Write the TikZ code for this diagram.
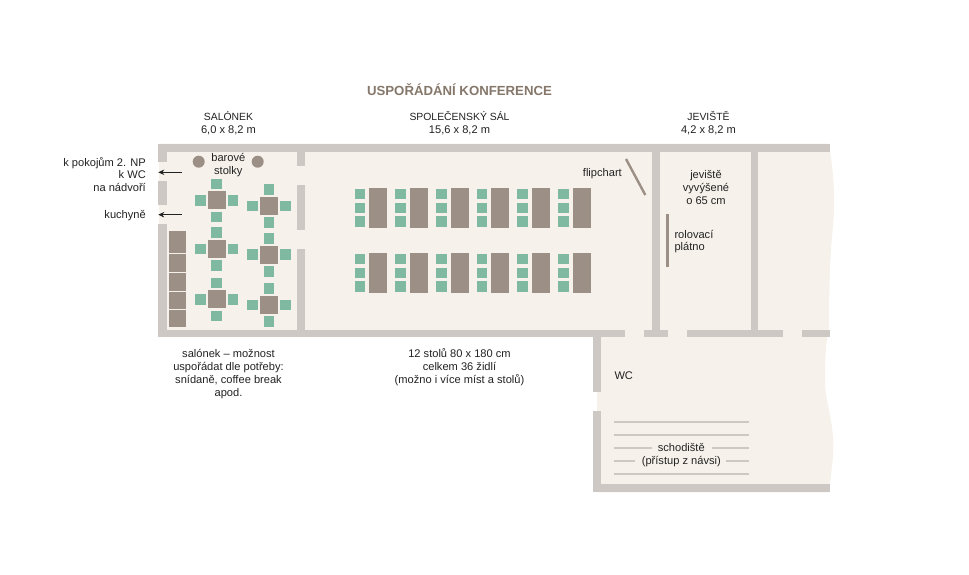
\documentclass[tikz,border=0pt]{standalone}
\usepackage{fontspec}
\setmainfont{Liberation Sans}
\usetikzlibrary{arrows.meta}
\definecolor{cream}{HTML}{F6F2EB}
\definecolor{wallc}{HTML}{CDC8C3}
\definecolor{tablec}{HTML}{9C8F85}
\definecolor{chairc}{HTML}{7FB9A2}
\definecolor{titlec}{HTML}{85776A}
\definecolor{inkc}{HTML}{222222}
\tikzset{
  lbl/.style={inner sep=0pt,text=inkc,font=\fontsize{11.1}{13}\selectfont,align=center},
  lblr/.style={lbl,anchor=east,align=right},
  lbll/.style={lbl,anchor=west,align=left},
  ruleline/.style={draw=wallc,line width=2pt},
  pointer/.style={draw=inkc,line width=0.7pt,-{Stealth[length=6pt,width=5.5pt]}},
}
% rectangle from (x1,y1) to (x2,y2) in reference pixels
\newcommand{\Rc}[5]{\fill[#1] (#2,#3) rectangle (#4,#5);}
\newcommand{\Chair}[2]{\fill[chairc] (#1-5.3,#2-5.3) rectangle (#1+5.3,#2+5.3);}
\newcommand{\SqSet}[2]{%
  \fill[tablec] (#1-9,#2-9) rectangle (#1+9,#2+9);
  \Chair{#1}{#2-16.5}\Chair{#1}{#2+16.5}\Chair{#1-16.4}{#2}\Chair{#1+16.4}{#2}}
\begin{document}
\begin{tikzpicture}[x=1pt,y=-1pt]
\useasboundingbox (0,0) rectangle (969,574);
\fill[white] (0,0) rectangle (969,574);
% floor
\fill[cream] (159,143.5) -- (829,143.5) .. controls (832,165) and (836,190) .. (833,225)
  .. controls (831,250) and (829,265) .. (829,329)
  .. controls (825,345) and (825,365) .. (825,385)
  .. controls (826,405) and (835,425) .. (833,455)
  .. controls (832,470) and (830,480) .. (829.5,492.3) -- (597,492.3) -- (597,337) -- (159,337) -- cycle;
% outer walls
\Rc{wallc}{158}{143.5}{830}{152}
\Rc{wallc}{158}{152}{166.5}{162}
\Rc{wallc}{158}{181}{166.5}{205}
\Rc{wallc}{158}{224}{166.5}{337}
\Rc{wallc}{158}{329.5}{625.3}{337}
\Rc{wallc}{644}{329.5}{668}{337}
\Rc{wallc}{686.7}{329.5}{783.3}{337}
\Rc{wallc}{802}{329.5}{829.5}{337}
% inner walls
\Rc{wallc}{297}{152}{305}{166}
\Rc{wallc}{297}{185}{305}{230}
\Rc{wallc}{297}{249}{305}{329.5}
\Rc{wallc}{652.3}{152}{660}{329.5}
\Rc{wallc}{750.7}{152}{758.3}{329.5}
% lower part
\Rc{wallc}{593}{337}{600.7}{392}
\Rc{wallc}{593}{411}{600.7}{492.3}
\Rc{wallc}{593}{484.3}{829.5}{492.3}
% long table
\Rc{tablec}{168.7}{230.7}{186.3}{253}
\Rc{tablec}{168.7}{254}{186.3}{271.7}
\Rc{tablec}{168.7}{273}{186.3}{290.7}
\Rc{tablec}{168.7}{291.7}{186.3}{309.3}
\Rc{tablec}{168.7}{310.3}{186.3}{327.3}
% bar tables
\fill[tablec] (198.7,161.7) circle (6);
\fill[tablec] (257.7,161.7) circle (6);
% square sets
\SqSet{216.7}{200.3}\SqSet{216.7}{249}\SqSet{216.7}{299.3}
\SqSet{269}{206}\SqSet{269}{254.7}\SqSet{269}{305}
% hall tables
\foreach \i in {0,...,5}{
  \foreach \d in {0,65}{
    \pgfmathsetmacro{\tx}{369.3+40.67*\i}
    \pgfmathsetmacro{\cx}{360+40.67*\i}
    \fill[tablec] (\tx,187.7+\d) rectangle (\tx+18,228.3+\d);
    \Chair{\cx}{194+\d}\Chair{\cx}{207.8+\d}\Chair{\cx}{221.7+\d}
  }
}
% flipchart & screen
\draw[draw=tablec,line width=2.4pt] (626,159) -- (645.3,195);
\Rc{tablec}{666}{213.7}{669}{267.3}
% stairs
\draw[ruleline] (613.7,422.3) -- (749.3,422.3);
\draw[ruleline] (613.7,435) -- (749.3,435);
\draw[ruleline] (613.7,447.7) -- (651.7,447.7);
\draw[ruleline] (711.7,447.7) -- (749.3,447.7);
\draw[ruleline] (613.7,460.7) -- (635,460.7);
\draw[ruleline] (726,460.7) -- (749.3,460.7);
\draw[ruleline] (613.7,473.7) -- (749.3,473.7);
% pointers
\coordinate (p1s) at (181.7,172.3); \coordinate (p1e) at (158.3,172.3);
\coordinate (p2s) at (181.7,214.7); \coordinate (p2e) at (158.3,214.7);
\draw[pointer] (p1s) -- (p1e);
\draw[pointer] (p2s) -- (p2e);
% text
\node[inner sep=0pt,text=titlec,font=\fontsize{13.2}{16}\selectfont\bfseries] (title) at (459.5,89.5) {USPOŘÁDÁNÍ KONFERENCE};
\node[lbl,font=\fontsize{10.4}{12.6}\selectfont] (h1) at (228.5,123) {SALÓNEK\\\fontsize{11.1}{12.6}\selectfont 6,0 x 8,2 m};
\node[lbl,font=\fontsize{10.4}{12.6}\selectfont] (h2) at (459.5,123) {SPOLEČENSKÝ SÁL\\\fontsize{11.1}{12.6}\selectfont 15,6 x 8,2 m};
\node[lbl,font=\fontsize{10.4}{12.6}\selectfont] (h3) at (708.5,123) {JEVIŠTĚ\\\fontsize{11.1}{12.6}\selectfont 4,2 x 8,2 m};
\node[lbl,font=\fontsize{11.1}{12.3}\selectfont] (bar) at (228.3,165) {barové\\stolky};
\node[lblr,font=\fontsize{11.1}{12.7}\selectfont] (left1) at (146,174.5) {k pokojům 2. NP\\k WC\\na nádvoří};
\node[lblr] (left2) at (146,215.5) {kuchyně};
\node[lblr] (flip) at (622,173.5) {flipchart};
\node[lbl,font=\fontsize{11.1}{12.9}\selectfont] (jev) at (706,187.8) {jeviště\\vyvýšené\\o 65 cm};
\node[lbll,font=\fontsize{11.1}{12.7}\selectfont] (rol) at (674.3,241.6) {rolovací\\plátno};
\node[lbl] (c1) at (228.5,374) {salónek – možnost\\uspořádat dle potřeby:\\snídaně, coffee break\\apod.};
\node[lbl] (c2) at (459.5,367) {12 stolů 80 x 180 cm\\celkem 36 židlí\\(možno i více míst a stolů)};
\node[lbll] (wc) at (614.3,376) {WC};
\node[lbl,font=\fontsize{11.1}{13.3}\selectfont] (sch) at (681.3,454.8) {schodiště\\(přístup z návsi)};
\end{tikzpicture}
\end{document}
